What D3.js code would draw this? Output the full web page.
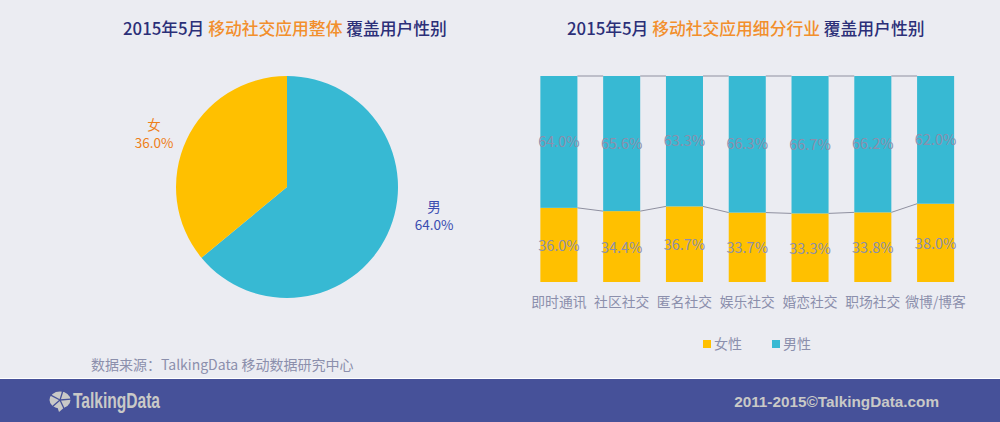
<!DOCTYPE html>
<html><head><meta charset="utf-8">
<script src="https://cdn.jsdelivr.net/npm/d3@7/dist/d3.min.js"></script>
<style>html,body{margin:0;padding:0;background:#ebecf2;overflow:hidden}svg{display:block}text{font-family:"Noto Sans CJK SC","Noto Sans",sans-serif}</style>
</head><body><svg id="c" width="1000" height="422"></svg>
<script>
const pieLabels = ["男","女"];
const pieValues = [64.0,36.0];
const categories = ["即时通讯","社区社交","匿名社交","娱乐社交","婚恋社交","职场社交","微博/博客"];
const femaleValues = [36.0,34.4,36.7,33.7,33.3,33.8,38.0];
const maleValues = [64.0,65.6,63.3,66.3,66.7,66.2,62.0];
const legendLabels = ["女性","男性"];
const COL_M="#37b9d3", COL_F="#ffc000", COL_T="#8b8fac", COL_NAVY="#2b2f78", COL_OR="#f28f2c";

const svg=d3.select("#c");
svg.append("rect").attr("width",1000).attr("height",422).attr("fill","#ebecf2");

// titles
function title(x,parts){
  const t=svg.append("text").attr("x",x).attr("y",35).attr("font-size",16.8).attr("font-weight",500);
  parts.forEach(p=>t.append("tspan").attr("fill",p[1]).text(p[0]));
}
title(123,[["2015年5月 ",COL_NAVY],["移动社交应用整体 ",COL_OR],["覆盖用户性别",COL_NAVY]]);
title(567,[["2015年5月 ",COL_NAVY],["移动社交应用细分行业 ",COL_OR],["覆盖用户性别",COL_NAVY]]);

// pie
const pieG=svg.append("g").attr("transform","translate(287,187)");
const arc=d3.arc().innerRadius(0).outerRadius(111);
const pieData=d3.pie().sort(null)(pieValues);
pieG.selectAll("path").data(pieData).join("path").attr("d",arc).attr("fill",(d,i)=>i===0?COL_M:COL_F);
const pieLab=[{x:434,y:212,c:"#3a4cb0"},{x:154,y:130,c:"#ee7f1a"}];
pieLab.forEach((p,i)=>{
  svg.append("text").attr("x",p.x).attr("y",p.y).attr("text-anchor","middle").attr("font-size",13.5).attr("fill",p.c).text(pieLabels[i]);
  svg.append("text").attr("x",p.x).attr("y",p.y+18).attr("text-anchor","middle").attr("font-size",13.5).attr("fill",p.c).text(pieValues[i].toFixed(1)+"%");
});

// stacked bars
const x=d3.scaleBand().domain(categories).range([527.5,967]).paddingInner(0.41).paddingOuter(0.205);
const y=d3.scaleLinear().domain([0,100]).range([282,76]);
const barG=svg.append("g");
categories.forEach((c,i)=>{
  barG.append("rect").attr("x",x(c)).attr("width",x.bandwidth()).attr("y",y(femaleValues[i])).attr("height",y(0)-y(femaleValues[i])).attr("fill",COL_F);
  barG.append("rect").attr("x",x(c)).attr("width",x.bandwidth()).attr("y",y(100)).attr("height",y(femaleValues[i])-y(100)).attr("fill",COL_M);
  if(i<categories.length-1){
    const n=categories[i+1];
    barG.append("line").attr("x1",x(c)+x.bandwidth()).attr("x2",x(n)).attr("y1",y(femaleValues[i])).attr("y2",y(femaleValues[i+1])).attr("stroke","#8f90a0").attr("stroke-width",1);
    barG.append("line").attr("x1",x(c)+x.bandwidth()).attr("x2",x(n)).attr("y1",y(100)).attr("y2",y(100)).attr("stroke","#8f90a0").attr("stroke-width",1);
  }
  const cx=x(c)+x.bandwidth()/2;
  barG.append("text").attr("x",cx).attr("y",(y(femaleValues[i])+y(0))/2+6).attr("text-anchor","middle").attr("font-size",14.5).attr("fill",COL_T).text(femaleValues[i].toFixed(1)+"%");
  barG.append("text").attr("x",cx).attr("y",(y(femaleValues[i])+y(100))/2+5).attr("text-anchor","middle").attr("font-size",14.5).attr("fill",COL_T).text(maleValues[i].toFixed(1)+"%");
});
const axis=d3.axisBottom(x).tickSize(0).tickPadding(0);
const ax=svg.append("g").attr("transform","translate(0,282)").call(axis);
ax.select(".domain").remove();
ax.selectAll("text").attr("y",25).attr("dy",0).attr("font-size",13.8).attr("fill",COL_T).style("font-family",'"Noto Sans CJK SC"');

// legend
[[703,COL_F],[772,COL_M]].forEach((l,i)=>{
  svg.append("rect").attr("x",l[0]).attr("y",340).attr("width",8).attr("height",8).attr("fill",l[1]);
  svg.append("text").attr("x",l[0]+11).attr("y",349).attr("font-size",14).attr("fill",COL_T).text(legendLabels[i]);
});

// source
svg.append("text").attr("x",91).attr("y",370).attr("font-size",14).attr("fill",COL_T).text("数据来源：TalkingData 移动数据研究中心");

// footer
svg.append("rect").attr("y",378).attr("width",1000).attr("height",1).attr("fill","#fff");
svg.append("rect").attr("y",379).attr("width",1000).attr("height",43).attr("fill","#465199");
const logo=svg.append("g").attr("transform","translate(60,400)").attr("fill","#c9c9c7");
logo.append("ellipse").attr("rx",10.5).attr("ry",8.5);
logo.append("path").attr("d","M-3,6 L-1,12 L6,6Z");
[0.3,1.5,2.7,4.0,5.2].forEach(a=>logo.append("line").attr("x1",0).attr("y1",0).attr("x2",11*Math.sin(a)).attr("y2",-11*Math.cos(a)).attr("stroke","#465199").attr("stroke-width",1.3));
svg.append("text").attr("x",73).attr("y",408).attr("font-size",22).attr("font-weight",700).attr("fill","#c9c9c7").attr("textLength",87).attr("lengthAdjust","spacingAndGlyphs").style("font-family","'Liberation Sans Narrow','Liberation Sans'").text("TalkingData");
svg.append("text").attr("x",939).attr("y",407).attr("text-anchor","end").attr("font-size",15.3).attr("font-weight",700).attr("fill","#c9c9c7").style("font-family","'Liberation Sans'").text("2011-2015©TalkingData.com");
</script></body></html>
